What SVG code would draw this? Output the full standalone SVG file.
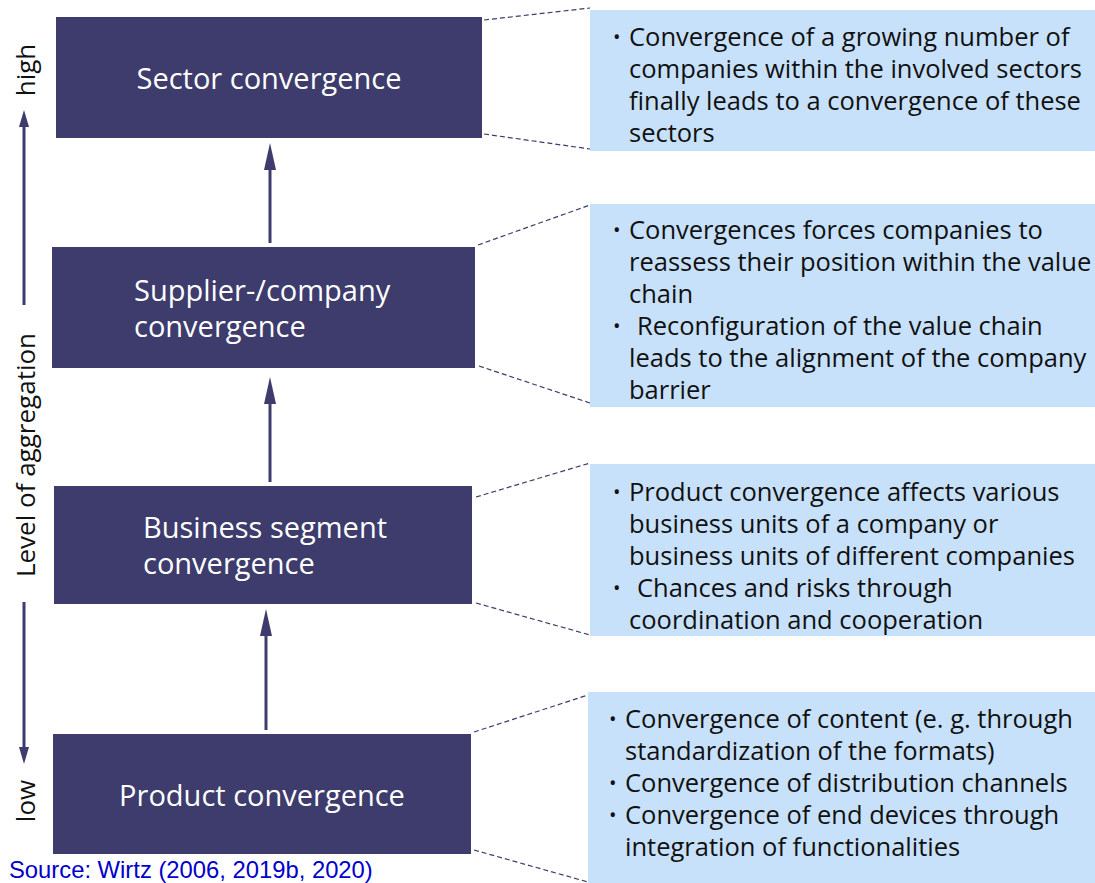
<svg xmlns="http://www.w3.org/2000/svg" width="1095" height="883" viewBox="0 0 1095 883">
<style>
.dark{fill:#3d3c6c}
.light{fill:#c8e1fb}
.nt{font-family:"Open Sans","Noto Sans",sans-serif;font-size:29px;fill:#ffffff}
.bt{font-family:"Open Sans","Noto Sans",sans-serif;font-size:25.5px;fill:#111111}
.bu{font-family:"Open Sans","Noto Sans",sans-serif;font-size:20px;fill:#111111}
.ax{font-family:"Open Sans","Noto Sans",sans-serif;font-size:26px;fill:#111111}
.dash{stroke:#3d3c6c;stroke-width:1.2;stroke-dasharray:5 3;fill:none}
.arr{stroke:#3d3c6c;stroke-width:3;fill:none}
.src{font-family:"Liberation Sans",Arial,sans-serif;font-size:23.8px;fill:#0000cc}
</style>
<defs>
<marker id="ah" markerUnits="userSpaceOnUse" markerWidth="27" markerHeight="12" refX="0" refY="6" orient="auto"><path d="M0,0 L27,6 L0,12 z" fill="#3d3c6c"/></marker>
<marker id="ahs" markerUnits="userSpaceOnUse" markerWidth="17" markerHeight="10" refX="0" refY="5" orient="auto"><path d="M0,0 L17,5 L0,10 z" fill="#3d3c6c"/></marker>
</defs>
<rect width="1095" height="883" fill="#ffffff"/>

<g id="axis">
<line class="arr" x1="24" y1="305" x2="24" y2="127" marker-end="url(#ahs)"/>
<line class="arr" x1="24" y1="602" x2="24" y2="747" marker-end="url(#ahs)"/>
<text class="ax" text-anchor="middle" transform="translate(35,70) rotate(-90)">high</text>
<text class="ax" text-anchor="middle" transform="translate(35,455) rotate(-90)">Level of aggregation</text>
<text class="ax" text-anchor="middle" transform="translate(35,801) rotate(-90)">low</text>
</g>

<g id="connectors">
<line class="arr" x1="270" y1="243" x2="270" y2="170" marker-end="url(#ah)"/>
<line class="arr" x1="270" y1="482" x2="270" y2="404" marker-end="url(#ah)"/>
<line class="arr" x1="266" y1="730" x2="266" y2="636" marker-end="url(#ah)"/>
<line class="dash" x1="484" y1="20" x2="590" y2="8"/>
<line class="dash" x1="484" y1="134" x2="590" y2="149"/>
<line class="dash" x1="478" y1="245" x2="590" y2="205"/>
<line class="dash" x1="479" y1="366" x2="590" y2="403"/>
<line class="dash" x1="476" y1="497" x2="590" y2="463"/>
<line class="dash" x1="476" y1="603" x2="590" y2="635"/>
<line class="dash" x1="474" y1="732" x2="588" y2="695"/>
<line class="dash" x1="474" y1="850" x2="588" y2="882"/>
</g>

<g id="sector">
<rect class="dark" x="56" y="17" width="426" height="121"/>
<text class="nt" x="269" y="89" text-anchor="middle">Sector convergence</text>
</g>
<g id="supplier">
<rect class="dark" x="52" y="247" width="423" height="121"/>
<text class="nt" x="134" y="301">Supplier-/company</text>
<text class="nt" x="134" y="337">convergence</text>
</g>
<g id="business">
<rect class="dark" x="54" y="486" width="418" height="118"/>
<text class="nt" x="143" y="538">Business segment</text>
<text class="nt" x="143" y="574">convergence</text>
</g>
<g id="product">
<rect class="dark" x="53" y="734" width="418" height="120"/>
<text class="nt" x="262" y="806" text-anchor="middle">Product convergence</text>
</g>

<g id="desc-sector">
<rect class="light" x="590" y="10" width="505" height="141"/>
<text class="bu" x="613" y="44">•</text>
<text class="bt" x="629" y="46">Convergence of a growing number of</text>
<text class="bt" x="629" y="78">companies within the involved sectors</text>
<text class="bt" x="629" y="110">finally leads to a convergence of these</text>
<text class="bt" x="629" y="142">sectors</text>
</g>
<g id="desc-supplier">
<rect class="light" x="590" y="204" width="505" height="203"/>
<text class="bu" x="613" y="237">•</text>
<text class="bt" x="629" y="239">Convergences forces companies to</text>
<text class="bt" x="629" y="271">reassess their position within the value</text>
<text class="bt" x="629" y="303">chain</text>
<text class="bu" x="613" y="333">•</text>
<text class="bt" x="637" y="335">Reconfiguration of the value chain</text>
<text class="bt" x="629" y="367">leads to the alignment of the company</text>
<text class="bt" x="629" y="399">barrier</text>
</g>
<g id="desc-business">
<rect class="light" x="590" y="464" width="505" height="172"/>
<text class="bu" x="613" y="499">•</text>
<text class="bt" x="629" y="501">Product convergence affects various</text>
<text class="bt" x="629" y="533">business units of a company or</text>
<text class="bt" x="629" y="565">business units of different companies</text>
<text class="bu" x="613" y="595">•</text>
<text class="bt" x="637" y="597">Chances and risks through</text>
<text class="bt" x="629" y="629">coordination and cooperation</text>
</g>
<g id="desc-product">
<rect class="light" x="588" y="692" width="507" height="191"/>
<text class="bu" x="609" y="726">•</text>
<text class="bt" x="625" y="728">Convergence of content (e. g. through</text>
<text class="bt" x="625" y="760">standardization of the formats)</text>
<text class="bu" x="609" y="790">•</text>
<text class="bt" x="625" y="792">Convergence of distribution channels</text>
<text class="bu" x="609" y="822">•</text>
<text class="bt" x="625" y="824">Convergence of end devices through</text>
<text class="bt" x="625" y="856">integration of functionalities</text>
</g>

<text class="src" x="9" y="878">Source: Wirtz (2006, 2019b, 2020)</text>
</svg>
